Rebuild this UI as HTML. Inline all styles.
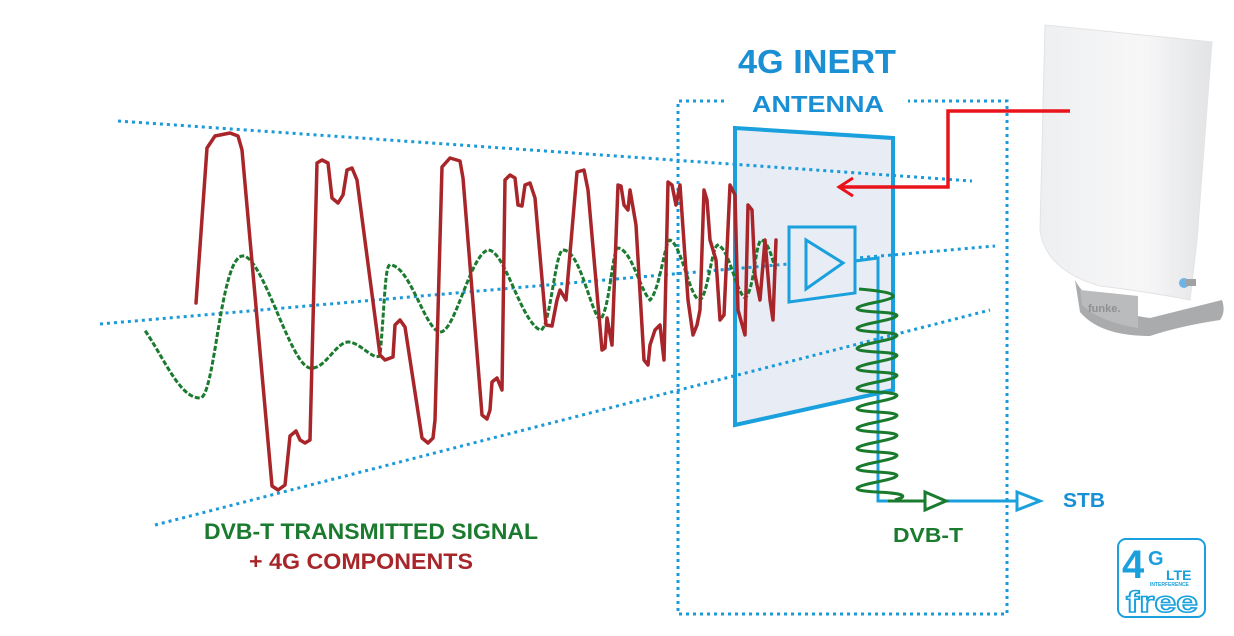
<!DOCTYPE html>
<html><head><meta charset="utf-8"><style>
html,body{margin:0;padding:0;background:#fff;}
svg{display:block;}
text{font-family:"Liberation Sans",sans-serif;font-weight:bold;}
</style></head><body>
<svg width="1234" height="636" viewBox="0 0 1234 636" xmlns="http://www.w3.org/2000/svg">
<defs>
<linearGradient id="pg" x1="0" y1="0" x2="1" y2="0">
<stop offset="0" stop-color="#eeeff0"/><stop offset="0.6" stop-color="#f7f7f8"/><stop offset="1" stop-color="#e2e3e5"/>
</linearGradient>
</defs>
<!-- antenna product -->
<path d="M1075,280 Q1090,310 1150,318 L1222,300 Q1226,312 1220,320 Q1180,326 1150,336 Q1100,336 1080,312 Z" fill="#a9abad"/>
<path d="M1045,25 L1212,42 Q1205,140 1197,240 L1190,300 Q1150,292 1100,286 Q1045,270 1040,230 Z" fill="url(#pg)" stroke="#e2e3e5" stroke-width="1"/>
<path d="M1080,290 L1138,296 L1138,328 Q1100,322 1082,305 Z" fill="#b9bbbd"/>
<text x="1088" y="312" font-size="11" fill="#8e9092" font-weight="normal">funke.</text>
<circle cx="1184" cy="283" r="5" fill="#6fb4e8"/>
<rect x="1186" y="279" width="10" height="7" fill="#9fa1a3"/>
<!-- antenna panel -->
<polygon points="735,128 893,138 893,390 735,425" fill="#e8edf5" stroke="#1aa0dc" stroke-width="4"/>
<!-- dotted guide lines -->
<g stroke="#1a9ad8" stroke-width="3" stroke-dasharray="3 4" fill="none">
<line x1="118" y1="121" x2="972" y2="181"/>
<line x1="100" y1="324" x2="995" y2="246"/>
<line x1="155" y1="525" x2="990" y2="310"/>
<path d="M724,101 L678,101 L678,614 L1007,614 L1007,101 L908,101"/>
</g>
<!-- green dotted signal -->
<path d="M146,332 C165,360 180,398 200,398 C215,398 220,260 242,256 C262,253 290,365 310,368 C325,370 335,343 348,342 C360,342 372,360 380,356 C385,300 385,265 390,265 C410,265 425,330 440,332 C455,333 470,255 488,250 C505,250 520,320 540,330 C550,332 555,250 563,250 C580,250 590,310 600,320 C610,310 612,250 618,248 C632,250 640,290 650,300 C660,290 665,240 670,240 C682,245 690,300 700,300 C708,295 712,245 718,245 C730,250 735,290 745,298 C755,290 755,240 762,240 C770,245 772,260 776,270" fill="none" stroke="#1a7a2e" stroke-width="3" stroke-dasharray="2 5" stroke-linecap="square"/>
<!-- red signal -->
<polyline fill="none" stroke="#a8262a" stroke-width="3.5" stroke-linejoin="round" stroke-linecap="round" points="
196,303 207,148 215,136 230,133 238,136 242,150 272,486 278,490 285,485 290,436 296,431 300,440 305,443 310,440 317,163 322,160 328,163 332,198 338,203 343,195 347,170 352,168 357,180 380,355 385,360 393,357 395,325 400,320 405,327 422,438 428,443 433,438 435,420 442,167 450,158 460,161 463,178 482,415 487,419 490,410 492,382 497,378 502,390 505,180 510,175 515,178 518,205 522,206 525,185 530,183 535,198 546,325 552,326 557,300 560,290 566,300 577,172 584,170 588,190 602,350 605,348 607,318 612,345 618,185 621,186 624,205 628,210 630,190 636,225 644,360 648,365 650,345 655,330 660,325 664,360 668,182 672,185 676,205 680,185 688,300 693,335 697,325 700,310 704,190 707,200 710,240 716,260 720,320 724,315 730,185 735,195 738,310 745,335 748,205 752,210 755,275 760,300 765,240 770,300 773,320 776,240"/>
<!-- amplifier -->
<polygon points="789,227 855,227 855,293 789,302" fill="#e8edf5" stroke="#1aa0dc" stroke-width="3"/>
<polygon points="806,240 806,289 843,263" fill="none" stroke="#1aa0dc" stroke-width="3"/>
<polyline points="855,261 878,258 878,501 1020,501" fill="none" stroke="#1aa0dc" stroke-width="3"/>
<polygon points="1017,492 1017,510 1040,501" fill="#fff" stroke="#1aa0dc" stroke-width="3"/>
<!-- green coil -->
<path d="M859,289 Q917,294 877,302 T877,312 T877,322 T877,332 T877,342 T877,352 T877,362 T877,372 T877,382 T877,392 T877,402 T877,412 T877,422 T877,432 T877,442 T877,452 T877,462 T877,472 T877,482 T877,492 T895,500" fill="none" stroke="#1a7a2e" stroke-width="3"/>
<line x1="888" y1="501" x2="926" y2="501" stroke="#1a7a2e" stroke-width="3"/>
<polygon points="925,492 925,510 946,501" fill="#fff" stroke="#1a7a2e" stroke-width="3"/>
<!-- red arrow -->
<polyline points="1070,111 948,111 948,187 840,187" fill="none" stroke="#e8131b" stroke-width="3.5"/>
<polyline points="853,178 839,187 853,196" fill="none" stroke="#e8131b" stroke-width="3"/>
<!-- texts -->
<text x="817" y="73" font-size="33" fill="#1a8fd4" text-anchor="middle" textLength="158" lengthAdjust="spacingAndGlyphs">4G INERT</text>
<text x="818" y="112" font-size="23" fill="#1a8fd4" text-anchor="middle" textLength="132" lengthAdjust="spacingAndGlyphs">ANTENNA</text>
<text x="204" y="539" font-size="22" fill="#1a7a2e" textLength="334" lengthAdjust="spacingAndGlyphs">DVB-T TRANSMITTED SIGNAL</text>
<text x="249" y="569" font-size="22" fill="#a8262a" textLength="224" lengthAdjust="spacingAndGlyphs">+ 4G COMPONENTS</text>
<text x="893" y="542" font-size="20" fill="#1a7a2e" textLength="70" lengthAdjust="spacingAndGlyphs">DVB-T</text>
<text x="1063" y="507" font-size="20" fill="#1a8fd4" textLength="42" lengthAdjust="spacingAndGlyphs">STB</text>
<!-- logo -->
<rect x="1118" y="539" width="87" height="78" rx="8" fill="#fff" stroke="#1aa0dc" stroke-width="2"/>
<text x="1122" y="578" font-size="40" fill="#1aa0dc">4</text>
<text x="1148" y="565" font-size="20" fill="#1aa0dc">G</text>
<text x="1166" y="580" font-size="14" fill="#1aa0dc">LTE</text>
<text x="1150" y="586" font-size="5" fill="#1aa0dc">INTERFERENCE</text>
<text x="1126" y="612" font-size="30" fill="none" stroke="#1aa0dc" stroke-width="1.5" font-weight="normal" textLength="72" lengthAdjust="spacingAndGlyphs">free</text>
</svg>
</body></html>
